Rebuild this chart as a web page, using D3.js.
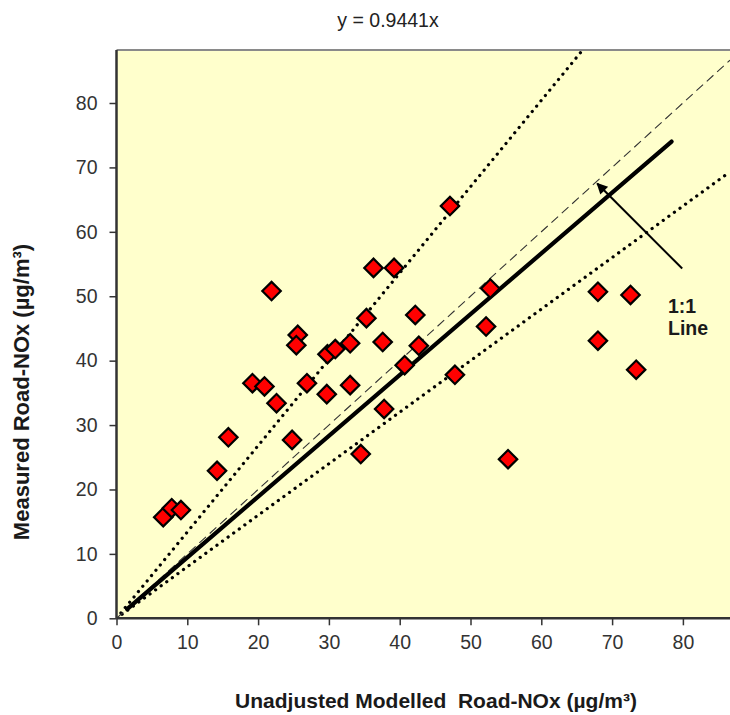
<!DOCTYPE html>
<html>
<head>
<meta charset="utf-8">
<script src="https://cdn.jsdelivr.net/npm/d3@7"></script>
<style>
  body { margin: 0; background: #fff; }
  text { font-family: Arial, "Liberation Sans", sans-serif; }
</style>
</head>
<body>
<svg id="chart" width="730" height="715"></svg>
<script>
// Данные
const modelled = [6.6, 7.8, 9.1, 14.2, 15.8, 24.8, 34.5, 21.9, 36.3, 39.2, 35.3, 25.6,
  25.4, 33.0, 37.6, 29.8, 30.9, 19.2, 20.9, 22.6, 26.9, 29.7, 33.0, 37.8,
  52.8, 42.2, 42.7, 40.7, 52.2, 47.8, 68.0, 72.6, 68.0, 73.4, 55.3, 47.1];
const measured = [15.7, 17.1, 16.8, 22.9, 28.1, 27.7, 25.5, 50.8, 54.4, 54.4, 46.6, 44.0,
  42.4, 42.7, 42.9, 41.0, 41.8, 36.5, 36.0, 33.4, 36.5, 34.8, 36.2, 32.5,
  51.2, 47.1, 42.3, 39.3, 45.3, 37.8, 50.7, 50.2, 43.1, 38.6, 24.7, 64.0];
const ticks = [0, 10, 20, 30, 40, 50, 60, 70, 80];
const slope = 0.9441;       // линия регрессии
const upperSlope = 1.34;    // верхняя пунктирная граница
const lowerSlope = 0.80;    // нижняя пунктирная граница
const fitRange = [1.5, 78.4];

const svg = d3.select("#chart");
const width = +svg.attr("width");

const x = d3.scaleLinear().domain([0, 80]).range([116.5, 682.9]);
const y = d3.scaleLinear().domain([0, 80]).range([618.3, 103]);
const xMax = x.invert(width);
const yMax = y.invert(50);

// Фон области построения
svg.append("rect")
    .attr("x", x(0)).attr("y", y(yMax))
    .attr("width", width - x(0)).attr("height", y(0) - y(yMax))
    .attr("fill", "#ffffcc");

svg.append("defs").append("clipPath").attr("id", "plotClip")
  .append("rect")
    .attr("x", x(0)).attr("y", y(yMax))
    .attr("width", width - x(0)).attr("height", y(0) - y(yMax));

// Верхняя рамка
svg.append("line")
    .attr("x1", x(0)).attr("x2", width)
    .attr("y1", y(yMax)).attr("y2", y(yMax))
    .attr("stroke", "#8a8a8a").attr("stroke-width", 2);

const plot = svg.append("g").attr("clip-path", "url(#plotClip)");
const line = d3.line().x(d => x(d[0])).y(d => y(d[1]));

// Пунктирные границы
[upperSlope, lowerSlope].forEach(s => {
  plot.append("path")
      .datum([[0, 0], [xMax, s * xMax]])
      .attr("d", line)
      .attr("fill", "none")
      .attr("stroke", "#000")
      .attr("stroke-width", 3.2)
      .attr("stroke-linecap", "round")
      .attr("stroke-dasharray", "0.1 6.8");
});

// Линия 1:1
plot.append("path")
    .datum([[0, 0], [xMax, xMax]])
    .attr("d", line)
    .attr("fill", "none")
    .attr("stroke", "#333")
    .attr("stroke-width", 1.1)
    .attr("stroke-dasharray", "9 5");

// Линия регрессии
plot.append("path")
    .datum(fitRange.map(v => [v, slope * v]))
    .attr("d", line)
    .attr("fill", "none")
    .attr("stroke", "#000")
    .attr("stroke-width", 4.2)
    .attr("stroke-linecap", "round");

// Точки
const diamond = d3.symbol().type(d3.symbolSquare).size(170);
plot.selectAll("path.pt")
  .data(modelled.map((m, i) => [m, measured[i]]))
  .enter().append("path")
    .attr("class", "pt")
    .attr("d", diamond)
    .attr("transform", d => `translate(${x(d[0])},${y(d[1])}) rotate(45)`)
    .attr("fill", "#ff0000")
    .attr("stroke", "#000")
    .attr("stroke-width", 2.2);

// Стрелка к линии 1:1
svg.append("defs").append("marker")
    .attr("id", "arrow")
    .attr("viewBox", "0 0 10 10")
    .attr("refX", 9).attr("refY", 5)
    .attr("markerWidth", 7).attr("markerHeight", 5.5)
    .attr("markerUnits", "strokeWidth")
    .attr("orient", "auto")
  .append("path")
    .attr("d", "M0,0L10,5L0,10z")
    .attr("fill", "#000");

svg.append("line")
    .attr("x1", x(79.9)).attr("y1", y(54.3))
    .attr("x2", x(67.9)).attr("y2", y(67.5))
    .attr("stroke", "#000")
    .attr("stroke-width", 2)
    .attr("marker-end", "url(#arrow)");

const note = svg.append("text")
    .attr("font-size", 19.5).attr("font-weight", "bold").attr("fill", "#1a1a1a");
note.append("tspan").attr("x", 668).attr("y", 313).text("1:1");
note.append("tspan").attr("x", 668).attr("y", 335).text("Line");

// Оси
const xAxis = svg.append("g")
    .attr("transform", `translate(0,${y(0)})`)
    .call(d3.axisBottom(x).tickValues(ticks).tickSize(7).tickSizeOuter(0).tickPadding(10));
xAxis.select(".domain").attr("d", `M${x(0)},0H${width}`);

const yAxis = svg.append("g")
    .attr("transform", `translate(${x(0)},0)`)
    .call(d3.axisLeft(y).tickValues(ticks).tickSize(7).tickSizeOuter(0).tickPadding(12));
yAxis.select(".domain").attr("d", `M0,${y(0)}V${y(yMax)}`);

[xAxis, yAxis].forEach(a => {
  a.select(".domain").attr("stroke", "#333").attr("stroke-width", 2.5);
  a.selectAll(".tick line").attr("stroke", "#333").attr("stroke-width", 1.5);
  a.selectAll(".tick text")
      .attr("font-size", 19.5)
      .attr("fill", "#333");
});

// Подписи
svg.append("text")
    .attr("x", 388).attr("y", 27)
    .attr("text-anchor", "middle")
    .attr("font-size", 19.5).attr("fill", "#222")
    .text("y = 0.9441x");

svg.append("text")
    .attr("x", 436).attr("y", 708)
    .attr("text-anchor", "middle")
    .attr("font-size", 21).attr("font-weight", "bold").attr("fill", "#1a1a1a")
    .style("white-space", "pre")
    .text("Unadjusted Modelled  Road-NOx (µg/m³)");

svg.append("text")
    .attr("transform", "translate(29,392) rotate(-90)")
    .attr("text-anchor", "middle")
    .attr("font-size", 22).attr("font-weight", "bold").attr("fill", "#1a1a1a")
    .text("Measured Road-NOx (µg/m³)");
</script>
</body>
</html>
